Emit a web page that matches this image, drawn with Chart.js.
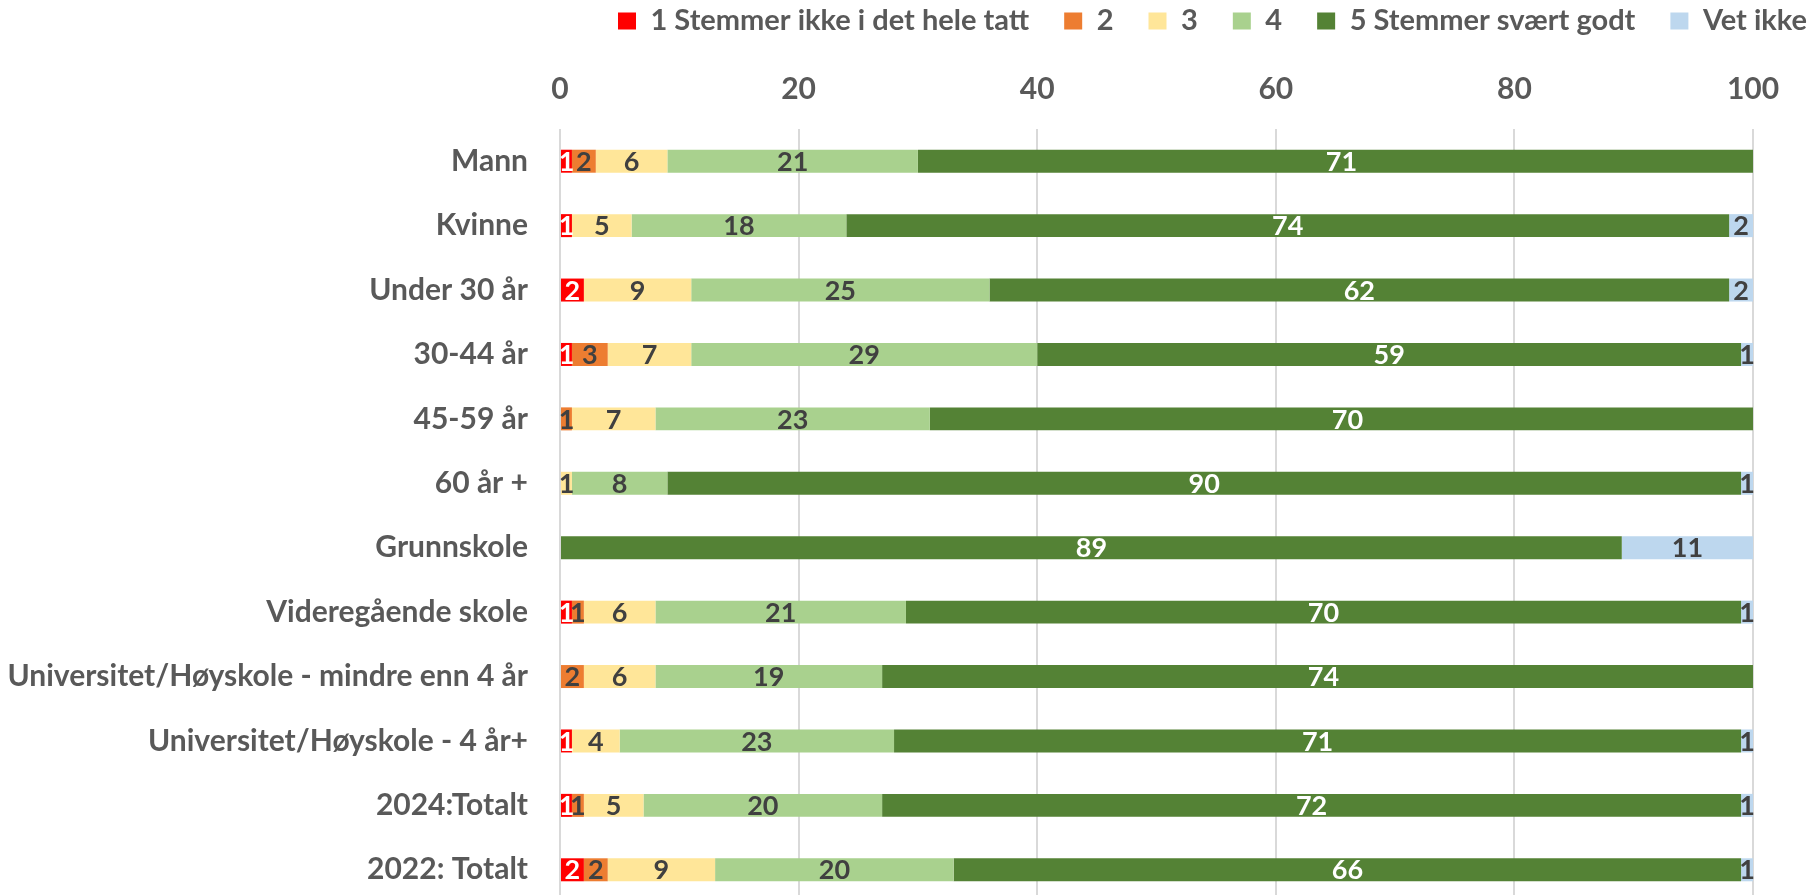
<!DOCTYPE html>
<html lang="no">
<head>
<meta charset="utf-8">
<title>Stemmer svært godt</title>
<script src="https://cdn.jsdelivr.net/npm/chart.js@4.4.1/dist/chart.umd.min.js"></script>
<style>
  html, body { margin: 0; padding: 0; background: #fff; overflow: hidden; }
  #wrap { position: relative; width: 1817px; height: 902px; }
</style>
</head>
<body>
<div id="wrap"><canvas id="barChart"></canvas></div>
<script>
const categories = [
  "Mann",
  "Kvinne",
  "Under 30 år",
  "30-44 år",
  "45-59 år",
  "60 år +",
  "Grunnskole",
  "Videregående skole",
  "Universitet/Høyskole - mindre enn 4 år",
  "Universitet/Høyskole - 4 år+",
  "2024:Totalt",
  "2022: Totalt",
];

const seriesNames = [
  "1 Stemmer ikke i det hele tatt",
  "2",
  "3",
  "4",
  "5 Stemmer svært godt",
  "Vet ikke",
];

const score1 = [1, 1, 2, 1, 0, 0, 0, 1, 0, 1, 1, 2];
const score2 = [2, 0, 0, 3, 1, 0, 0, 1, 2, 0, 1, 2];
const score3 = [6, 5, 9, 7, 7, 1, 0, 6, 6, 4, 5, 9];
const score4 = [21, 18, 25, 29, 23, 8, 0, 21, 19, 23, 20, 20];
const score5 = [71, 74, 62, 59, 70, 90, 89, 70, 74, 71, 72, 66];
const vetIkke = [0, 2, 2, 1, 0, 1, 11, 1, 0, 1, 1, 1];

const xTickStep = 20;
const xMin = 0;
const xMax = 100;

const colors = ["#FF0000", "#ED7D31", "#FFE699", "#A9D18E", "#548235", "#BDD7EE"];
const labelColors = ["#FFFFFF", "#404040", "#404040", "#404040", "#FFFFFF", "#404040"];

document.addEventListener("DOMContentLoaded", () => {
  const barChartCanvas = document.getElementById("barChart");
  const allSeries = [score1, score2, score3, score4, score5, vetIkke];

  // draws the value in the middle of each segment (skips zeros)
  const segmentLabels = {
    id: "segmentLabels",
    afterDatasetsDraw(chart) {
      const { ctx } = chart;
      ctx.save();
      ctx.font = "bold 27px Lato";
      ctx.textAlign = "center";
      ctx.textBaseline = "middle";
      chart.data.datasets.forEach((dataset, i) => {
        const meta = chart.getDatasetMeta(i);
        meta.data.forEach((bar, j) => {
          const value = dataset.data[j];
          if (!value) return;
          ctx.fillStyle = labelColors[i];
          ctx.fillText(String(value), (bar.x + bar.base) / 2, bar.y + 1);
        });
      });
      ctx.restore();
    },
  };

  new Chart(barChartCanvas, {
    type: "bar",
    data: {
      labels: categories,
      datasets: allSeries.map((values, i) => ({
        label: seriesNames[i],
        data: values,
        backgroundColor: colors[i],
        borderWidth: 0,
        barPercentage: 0.357,
        categoryPercentage: 1,
        clip: 0,
      })),
    },
    options: {
      indexAxis: "y",
      responsive: true,
      maintainAspectRatio: false,
      animation: false,
      layout: { padding: { top: -28.5, left: 0, right: -25, bottom: 0 } },
      plugins: {
        tooltip: { enabled: false },
        legend: {
          position: "top",
          align: "end",
          labels: {
            font: { family: "Lato", size: 29, weight: "bold" },
            color: "#595959",
            boxWidth: 18,
            boxHeight: 17,
            padding: 35,
          },
        },
      },
      scales: {
        x: {
          position: "top",
          stacked: true,
          min: xMin,
          max: xMax,
          ticks: {
            stepSize: xTickStep,
            font: { family: "Lato", size: 30, weight: "bold" },
            color: "#595959",
            padding: 22,
          },
          grid: { color: "#D9D9D9", lineWidth: 2, drawTicks: false },
          border: { display: false },
          afterFit: (scale) => {
            scale.height = 83.5;
            scale.paddingRight = 64;
          },
        },
        y: {
          stacked: true,
          ticks: {
            font: { family: "Lato", size: 30, weight: "bold" },
            color: "#595959",
            padding: 32,
          },
          grid: { display: false, drawTicks: false },
          border: { display: false },
          afterFit: (scale) => {
            scale.width = 560;
            scale.paddingTop = 0;
            scale.paddingBottom = 0;
          },
        },
      },
    },
    plugins: [segmentLabels],
  });
});
</script>
</body>
</html>
